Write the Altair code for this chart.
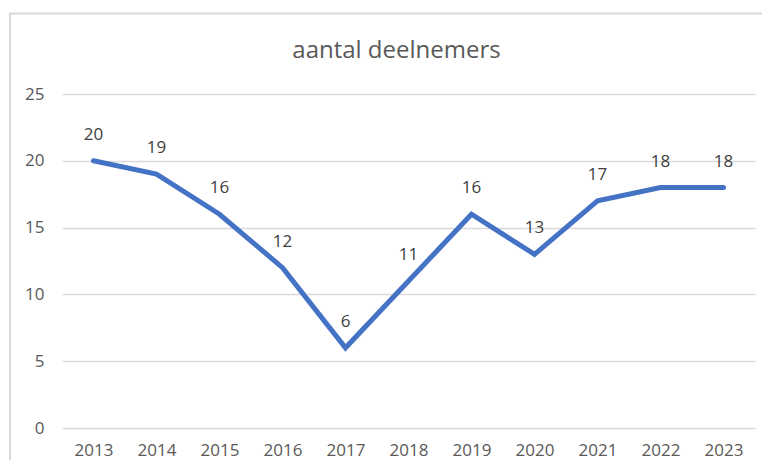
import altair as alt
import pandas as pd

years = ["2013", "2014", "2015", "2016", "2017", "2018", "2019", "2020", "2021", "2022", "2023"]
deelnemers = [20, 19, 16, 12, 6, 11, 16, 13, 17, 18, 18]
y_ticks = [0, 5, 10, 15, 20, 25]

df = pd.DataFrame({"jaar": years, "aantal": deelnemers})

FONT = "Open Sans"

x_enc = alt.X("jaar:N", sort=years,
              scale=alt.Scale(type="point", padding=0.5),
              axis=alt.Axis(title=None, labelAngle=0, ticks=False, domain=False,
                            labelPadding=14, labelFontSize=17, labelColor="#595959",
                            labelFont=FONT, grid=False))
y_enc = alt.Y("aantal:Q",
              scale=alt.Scale(domain=[0, 25], nice=False),
              axis=alt.Axis(title=None, values=y_ticks, ticks=False, domain=False,
                            labelPadding=18, labelFontSize=17, labelColor="#595959",
                            labelFont=FONT, grid=True, gridColor="#d9d9d9", gridWidth=1.3))

border = alt.Chart(pd.DataFrame({"b": [0]})).mark_rect(
    fill=None, stroke="#d9d9d9", strokeWidth=2
).encode(x=alt.value(-52), x2=alt.value(760), y=alt.value(-80.5), y2=alt.value(400))

line = alt.Chart(df).mark_line(color="#4472C4", strokeWidth=5, strokeCap="round",
                               strokeJoin="miter").encode(x=x_enc, y=y_enc)

labels = alt.Chart(df).mark_text(dy=-26, fontSize=17, color="#404040", font=FONT,
                                 baseline="middle").encode(
    x=alt.X("jaar:N", sort=years), y="aantal:Q", text="aantal:Q")

chart = alt.layer(border, line, labels).properties(
    width=693, height=334,
    title=alt.TitleParams("aantal deelnemers", fontSize=24, font=FONT, fontWeight="normal",
                          color="#595959", anchor="middle", offset=-50, dx=-12),
    autosize=alt.AutoSizeParams(type="none"),
    padding={"left": 54, "top": 86, "right": 7, "bottom": 32},
).configure_view(stroke=None)

chart.save("out.html", embed_options={"renderer": "svg", "actions": False})
